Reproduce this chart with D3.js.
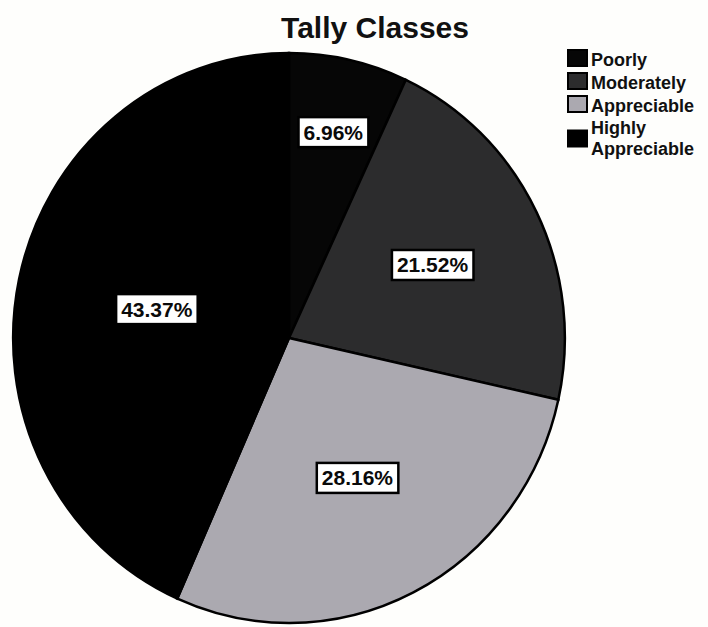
<!DOCTYPE html>
<html>
<head>
<meta charset="utf-8">
<script src="https://cdn.jsdelivr.net/npm/d3@7"></script>
<style>
  html, body { margin: 0; padding: 0; background: #fefefc; }
  svg { display: block; }
  text { font-family: "Liberation Sans", Arial, sans-serif; font-weight: bold; }
</style>
</head>
<body>
<svg id="chart" width="708" height="627"></svg>
<script>
// ---- data ----
const categories = ["Poorly", "Moderately", "Appreciable", "Highly Appreciable"];
const legendLines = [["Poorly"], ["Moderately"], ["Appreciable"], ["Highly", "Appreciable"]];
const values = [6.96, 21.52, 28.16, 43.37];
const labels = ["6.96%", "21.52%", "28.16%", "43.37%"];
const title = "Tally Classes";

// ---- styling / layout ----
const colors = ["#060606", "#2c2c2d", "#aba9b0", "#000000"];
const labelRadius = [0.74, 0.58, 0.55, 0.49];
const W = 708, H = 627;
const cx = 289, cy = 338, R = 285, sx = 0.968;

const svg = d3.select("#chart");
svg.append("rect").attr("width", W).attr("height", H).attr("fill", "#fefefc");

svg.append("text")
  .attr("x", 375).attr("y", 38)
  .attr("text-anchor", "middle")
  .attr("font-size", 30)
  .attr("fill", "#111")
  .text(title);

const pie = d3.pie().sort(null).value(d => d);
const arcs = pie(values);
const arc = d3.arc().innerRadius(0).outerRadius(R);

const g = svg.append("g").attr("transform", `translate(${cx},${cy}) scale(${sx},1)`);
g.selectAll("path.slice")
  .data(arcs)
  .enter().append("path")
  .attr("class", "slice")
  .attr("d", arc)
  .attr("fill", (d, i) => colors[i])
  .attr("stroke", "#000")
  .attr("stroke-width", 2.5)
  .attr("vector-effect", "non-scaling-stroke");

// labels
const lg = svg.append("g");
arcs.forEach((d, i) => {
  const a = (d.startAngle + d.endAngle) / 2;
  const rr = labelRadius[i] * R;
  const x = cx + sx * rr * Math.sin(a);
  const y = cy - rr * Math.cos(a);
  const t = lg.append("text")
    .attr("x", x).attr("y", y)
    .attr("text-anchor", "middle")
    .attr("dominant-baseline", "central")
    .attr("font-size", 21)
    .attr("fill", "#0a0a0a")
    .text(labels[i]);
  const bb = t.node().getBBox();
  lg.insert("rect", "text")
    .attr("x", bb.x - 5).attr("y", y - 15)
    .attr("width", bb.width + 10).attr("height", 30)
    .attr("fill", "#ffffff")
    .attr("stroke", "#000")
    .attr("stroke-width", 2.5);
});

// legend
const legendBaselines = [[66], [89], [112], [134, 155]];
const leg = svg.append("g");
categories.forEach((c, i) => {
  const bl = legendBaselines[i];
  const swY = bl.length > 1 ? (bl[0] + bl[1]) / 2 - 14 : bl[0] - 16;
  leg.append("rect")
    .attr("x", 568).attr("y", swY)
    .attr("width", 19).attr("height", 16)
    .attr("fill", colors[i])
    .attr("stroke", "#000")
    .attr("stroke-width", 2);
  legendLines[i].forEach((ln, j) => {
    leg.append("text")
      .attr("x", 591).attr("y", bl[j])
      .attr("font-size", 18)
      .attr("fill", "#111")
      .text(ln);
  });
});
</script>
</body>
</html>
